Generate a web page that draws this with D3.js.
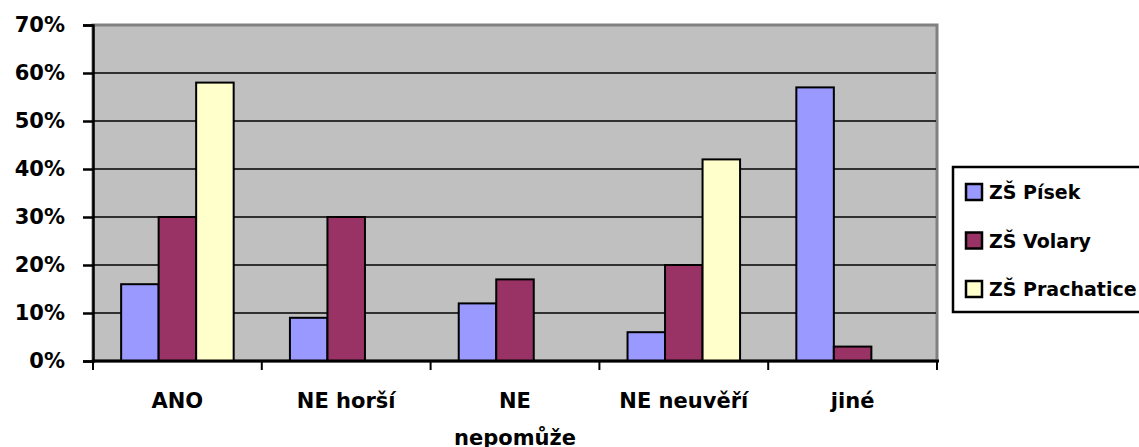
<!DOCTYPE html>
<html>
<head>
<meta charset="utf-8">
<script src="https://d3js.org/d3.v7.min.js"></script>
<style>
  body { margin: 0; background: #fff; }
  svg text { font-family: "DejaVu Sans", Verdana, sans-serif; font-weight: bold; fill: #000; }
</style>
</head>
<body>
<svg id="chart"></svg>
<script>
// data
let categories = ["ANO", "NE horší", "NE nepomůže", "NE neuvěří", "jiné"];
let series = ["ZŠ Písek", "ZŠ Volary", "ZŠ Prachatice"];
let pisek = [0.16, 0.09, 0.12, 0.06, 0.57];
let volary = [0.30, 0.30, 0.17, 0.20, 0.03];
let prachatice = [0.58, 0, 0, 0.42, 0];
let yTicks = [0, 0.1, 0.2, 0.3, 0.4, 0.5, 0.6, 0.7];
let colors = ["#9999FF", "#993366", "#FFFFCC"];

let values = [pisek, volary, prachatice];

let svg = d3.select("#chart").attr("width", 1139).attr("height", 447);

// plot area bounds
let plotL = 93, plotR = 937, plotT = 25, plotB = 361;

let x = d3.scaleBand().domain(categories).range([plotL, plotR]);
let xs = d3.scaleBand().domain(series).range([0, x.bandwidth()]).paddingOuter(0.75);
let y = d3.scaleLinear().domain([0, 0.7]).range([plotB, plotT]);
let color = d3.scaleOrdinal().domain(series).range(colors);

// plot area
svg.append("rect")
    .attr("x", plotL).attr("y", plotT)
    .attr("width", plotR - plotL).attr("height", plotB - plotT)
    .attr("fill", "#C0C0C0")
    .attr("stroke", "#808080")
    .attr("stroke-width", 3);

// gridlines
svg.append("g").selectAll("line")
    .data(yTicks.filter(function (d) { return d > 0 && d < 0.7; }))
    .enter().append("line")
    .attr("x1", plotL).attr("x2", plotR - 1)
    .attr("y1", function (d) { return y(d); })
    .attr("y2", function (d) { return y(d); })
    .attr("stroke", "#000")
    .attr("stroke-width", 1.5);

// bars
let rows = [];
categories.forEach(function (c, i) {
    series.forEach(function (s, j) {
        rows.push({cat: c, ser: s, val: values[j][i]});
    });
});

svg.append("g").selectAll("rect")
    .data(rows.filter(function (d) { return d.val > 0; }))
    .enter().append("rect")
    .attr("x", function (d) { return x(d.cat) + xs(d.ser); })
    .attr("y", function (d) { return y(d.val); })
    .attr("width", xs.bandwidth())
    .attr("height", function (d) { return y(0) - y(d.val); })
    .attr("fill", function (d) { return color(d.ser); })
    .attr("stroke", "#000")
    .attr("stroke-width", 2);

// y axis
let yAxis = svg.append("g")
    .attr("transform", "translate(" + plotL + ",0)")
    .call(d3.axisLeft(y).tickValues(yTicks).tickFormat(d3.format(".0%")).tickSize(10).tickPadding(18));
yAxis.select(".domain").attr("stroke", "#000").attr("stroke-width", 2.5);
yAxis.selectAll(".tick line").attr("stroke", "#000").attr("stroke-width", 2.5);
yAxis.selectAll(".tick text")
    .style("font-size", "21px")
    .style("font-family", "'DejaVu Sans', sans-serif")
    .style("font-weight", "bold")
    .attr("fill", "#000");

// x axis
let bounds = categories.map(function (c) { return x(c); }).concat([plotR]);
svg.append("line")
    .attr("x1", plotL - 1).attr("x2", plotR + 2)
    .attr("y1", plotB).attr("y2", plotB)
    .attr("stroke", "#000").attr("stroke-width", 3);
svg.append("g").selectAll("line")
    .data(bounds)
    .enter().append("line")
    .attr("x1", function (d) { return d; })
    .attr("x2", function (d) { return d; })
    .attr("y1", plotB).attr("y2", plotB + 9)
    .attr("stroke", "#000").attr("stroke-width", 2);

// category labels, wrapped like the original
let catLabels = svg.append("g").selectAll("text")
    .data(categories)
    .enter().append("text")
    .attr("x", function (d) { return x(d) + x.bandwidth() / 2; })
    .attr("y", 408)
    .attr("text-anchor", "middle")
    .style("font-size", "21px")
    .text(function (d) { return d; });

catLabels.each(function (d) {
    let t = d3.select(this);
    if (this.getComputedTextLength() > 140) {
        let words = d.split(" ");
        t.text(null);
        t.append("tspan").attr("x", t.attr("x")).text(words[0]);
        t.append("tspan").attr("x", t.attr("x")).attr("dy", 37).text(words.slice(1).join(" "));
    }
});

// legend
let legend = svg.append("g");
legend.append("rect")
    .attr("x", 953).attr("y", 167)
    .attr("width", 200).attr("height", 145)
    .attr("fill", "#fff")
    .attr("stroke", "#000")
    .attr("stroke-width", 2.5);

let item = legend.selectAll(".item")
    .data(series)
    .enter().append("g")
    .attr("class", "item")
    .attr("transform", function (d, i) { return "translate(966," + (192 + i * 48.5) + ")"; });

item.append("rect")
    .attr("x", 0).attr("y", -8)
    .attr("width", 16).attr("height", 16)
    .attr("fill", function (d) { return color(d); })
    .attr("stroke", "#000")
    .attr("stroke-width", 2.5);

item.append("text")
    .attr("x", 23)
    .attr("y", 7)
    .style("font-size", "19px")
    .text(function (d) { return d; });
</script>
</body>
</html>
